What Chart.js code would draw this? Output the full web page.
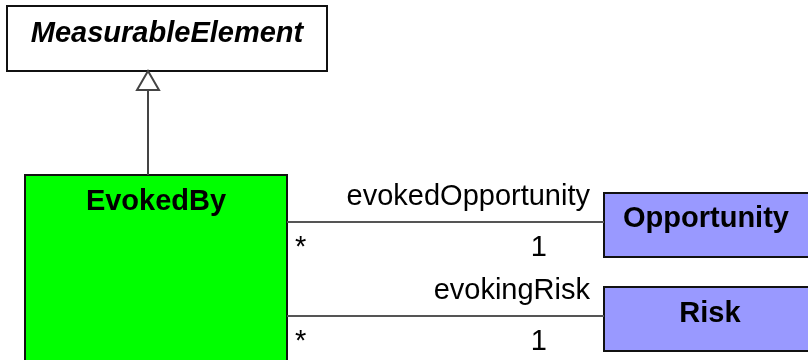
<!DOCTYPE html>
<html>
<head>
<meta charset="utf-8">
<script src="https://cdn.jsdelivr.net/npm/chart.js@4"></script>
<style>
  html, body { margin: 0; padding: 0; background: #fff; }
  #wrap { width: 808px; height: 360px; position: relative; }
</style>
</head>
<body>
<div id="wrap"><canvas id="umlChart"></canvas></div>
<script>
// Diagram content
const classNames = ['MeasurableElement', 'EvokedBy', 'Opportunity', 'Risk'];
const abstractClass = [true, false, false, false];
const roleNames = ['evokedOpportunity', 'evokingRisk'];
const sourceMult = ['*', '*'];
const targetMult = ['1', '1'];

// Layout in diagram units (x: 0..808, y: 0..360 downwards)
const boxLeft = [7, 25, 604, 604];
const boxTop = [6, 175, 193, 287];
const boxRight = [327, 287, 812, 812];
const boxBottom = [71, 370, 257, 351];
const boxFill = ['#ffffff', '#00ff00', '#9999ff', '#9999ff'];
const nameX = [167, 156, 706, 710];
const nameBaseline = [42, 210, 227, 322];
const assocY = [222, 316];

// association lines built from the layout
const assocSets = assocY.map(y => ({
    type: 'line',
    data: [{ x: boxRight[1], y: y }, { x: boxLeft[2], y: y }],
    borderColor: '#555',
    borderWidth: 2,
    pointRadius: 0,
    fill: false
}));

// generalization edge EvokedBy -> MeasurableElement
const genX = 148;
const genSet = {
    type: 'line',
    data: [{ x: genX, y: boxTop[1] }, { x: genX, y: boxBottom[0] + 19 }],
    borderColor: '#444',
    borderWidth: 2,
    pointRadius: 0,
    fill: false
};

const umlPlugin = {
    id: 'uml',
    beforeDatasetsDraw(chart) {
        const { ctx, scales: { x, y } } = chart;
        ctx.save();
        classNames.forEach((name, i) => {
            const l = x.getPixelForValue(boxLeft[i]);
            const t = y.getPixelForValue(boxTop[i]);
            const r = x.getPixelForValue(boxRight[i]);
            const b = y.getPixelForValue(boxBottom[i]);
            ctx.fillStyle = boxFill[i];
            ctx.fillRect(l, t, r - l, b - t);
            ctx.strokeStyle = '#111';
            ctx.lineWidth = 2;
            ctx.strokeRect(l, t, r - l, b - t);
        });
        ctx.restore();
    },
    afterDatasetsDraw(chart) {
        const { ctx, scales: { x, y } } = chart;
        ctx.save();
        // arrow head
        const ax = x.getPixelForValue(genX);
        const tip = y.getPixelForValue(boxBottom[0]);
        const base = y.getPixelForValue(boxBottom[0] + 19);
        ctx.beginPath();
        ctx.moveTo(ax, tip);
        ctx.lineTo(ax - 11, base);
        ctx.lineTo(ax + 11, base);
        ctx.closePath();
        ctx.fillStyle = '#fff';
        ctx.fill();
        ctx.strokeStyle = '#444';
        ctx.lineWidth = 2;
        ctx.stroke();

        // class names
        ctx.fillStyle = '#000';
        ctx.textAlign = 'center';
        ctx.textBaseline = 'alphabetic';
        classNames.forEach((name, i) => {
            ctx.font = (abstractClass[i] ? 'italic ' : '') + 'bold 29px "Liberation Sans", Arial, sans-serif';
            ctx.fillText(name, x.getPixelForValue(nameX[i]), y.getPixelForValue(nameBaseline[i]));
        });

        // role names and multiplicities
        ctx.font = '29px "Liberation Sans", Arial, sans-serif';
        roleNames.forEach((role, i) => {
            const ly = assocY[i];
            ctx.textAlign = 'right';
            ctx.fillText(role, x.getPixelForValue(boxLeft[2] - 14), y.getPixelForValue(ly - 17));
            ctx.fillText(targetMult[i], x.getPixelForValue(boxLeft[2] - 57), y.getPixelForValue(ly + 34));
            ctx.textAlign = 'left';
            ctx.fillText(sourceMult[i], x.getPixelForValue(boxRight[1] + 8), y.getPixelForValue(ly + 34));
        });
        ctx.restore();
    }
};

new Chart(document.getElementById('umlChart'), {
    type: 'scatter',
    data: { datasets: [genSet, ...assocSets] },
    options: {
        responsive: true,
        maintainAspectRatio: false,
        animation: false,
        layout: { padding: 0 },
        plugins: { legend: { display: false }, tooltip: { enabled: false } },
        scales: {
            x: { type: 'linear', min: 0, max: 808, display: false },
            y: { type: 'linear', min: 0, max: 360, reverse: true, display: false }
        }
    },
    plugins: [umlPlugin]
});
</script>
</body>
</html>
